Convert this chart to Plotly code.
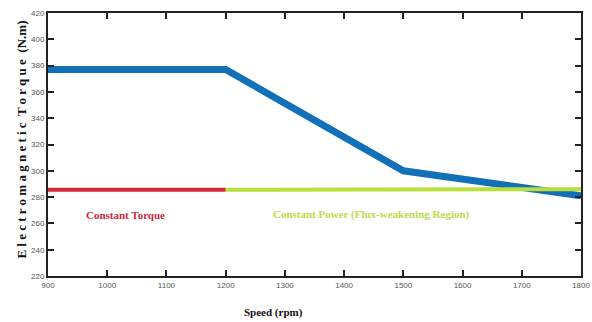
import plotly.graph_objects as go

speed_blue = [900, 1200, 1500, 1800]
torque_blue = [377, 377, 300, 281]
speed_red = [900, 1200]
torque_red = [285.5, 285.5]
speed_green = [1200, 1800]
torque_green = [285.5, 286]

fig = go.Figure()
fig.add_trace(go.Scatter(x=speed_blue, y=torque_blue, mode="lines",
                         line=dict(color="#1170b8", width=7)))
fig.add_trace(go.Scatter(x=speed_red, y=torque_red, mode="lines",
                         line=dict(color="#d4293b", width=4)))
fig.add_trace(go.Scatter(x=speed_green, y=torque_green, mode="lines",
                         line=dict(color="#b8df3c", width=4)))

fig.add_annotation(x=1031, y=266.7, text="<b>Constant Torque</b>", showarrow=False,
                   font=dict(family="Liberation Serif", size=11, color="#c8293b"))
fig.add_annotation(x=1447, y=266.7, text="<b>Constant Power (Flux-weakening Region)</b>", showarrow=False,
                   font=dict(family="Liberation Serif", size=11, color="#bcdc48"))
fig.add_annotation(x=1280, xref="x", y=-0.137, yref="paper", yanchor="middle",
                   text="<b>Speed (rpm)</b>", showarrow=False,
                   font=dict(family="Liberation Serif", size=11, color="#111"))
fig.add_annotation(x=-0.05, xref="paper", y=0.52, yref="paper", textangle=-90,
                   xanchor="center", yanchor="middle", showarrow=False,
                   text="<b>E l e c t r o m a g n e t i c  T o r q u e  (N.m)</b>",
                   font=dict(family="Liberation Serif", size=13, color="#111"))

axis_common = dict(showgrid=False, zeroline=False, showline=True, linecolor="#222",
                   linewidth=2, mirror="ticks", ticks="inside", ticklen=6, tickwidth=2,
                   tickcolor="#222", automargin=False,
                   tickfont=dict(family="Liberation Sans Narrow, Liberation Sans", size=8, color="#555"))

fig.update_xaxes(range=[900, 1800], tickvals=list(range(900, 1801, 100)), **axis_common)
fig.update_yaxes(range=[220, 420], tickvals=list(range(220, 421, 20)), **axis_common)

fig.update_layout(width=592, height=322, showlegend=False,
                  margin=dict(l=48, r=11, t=13, b=46),
                  plot_bgcolor="white", paper_bgcolor="white")

fig.write_html("out.html", config={"displayModeBar": False},
               post_script="document.body.style.margin='0px';document.body.style.overflow='hidden';")
